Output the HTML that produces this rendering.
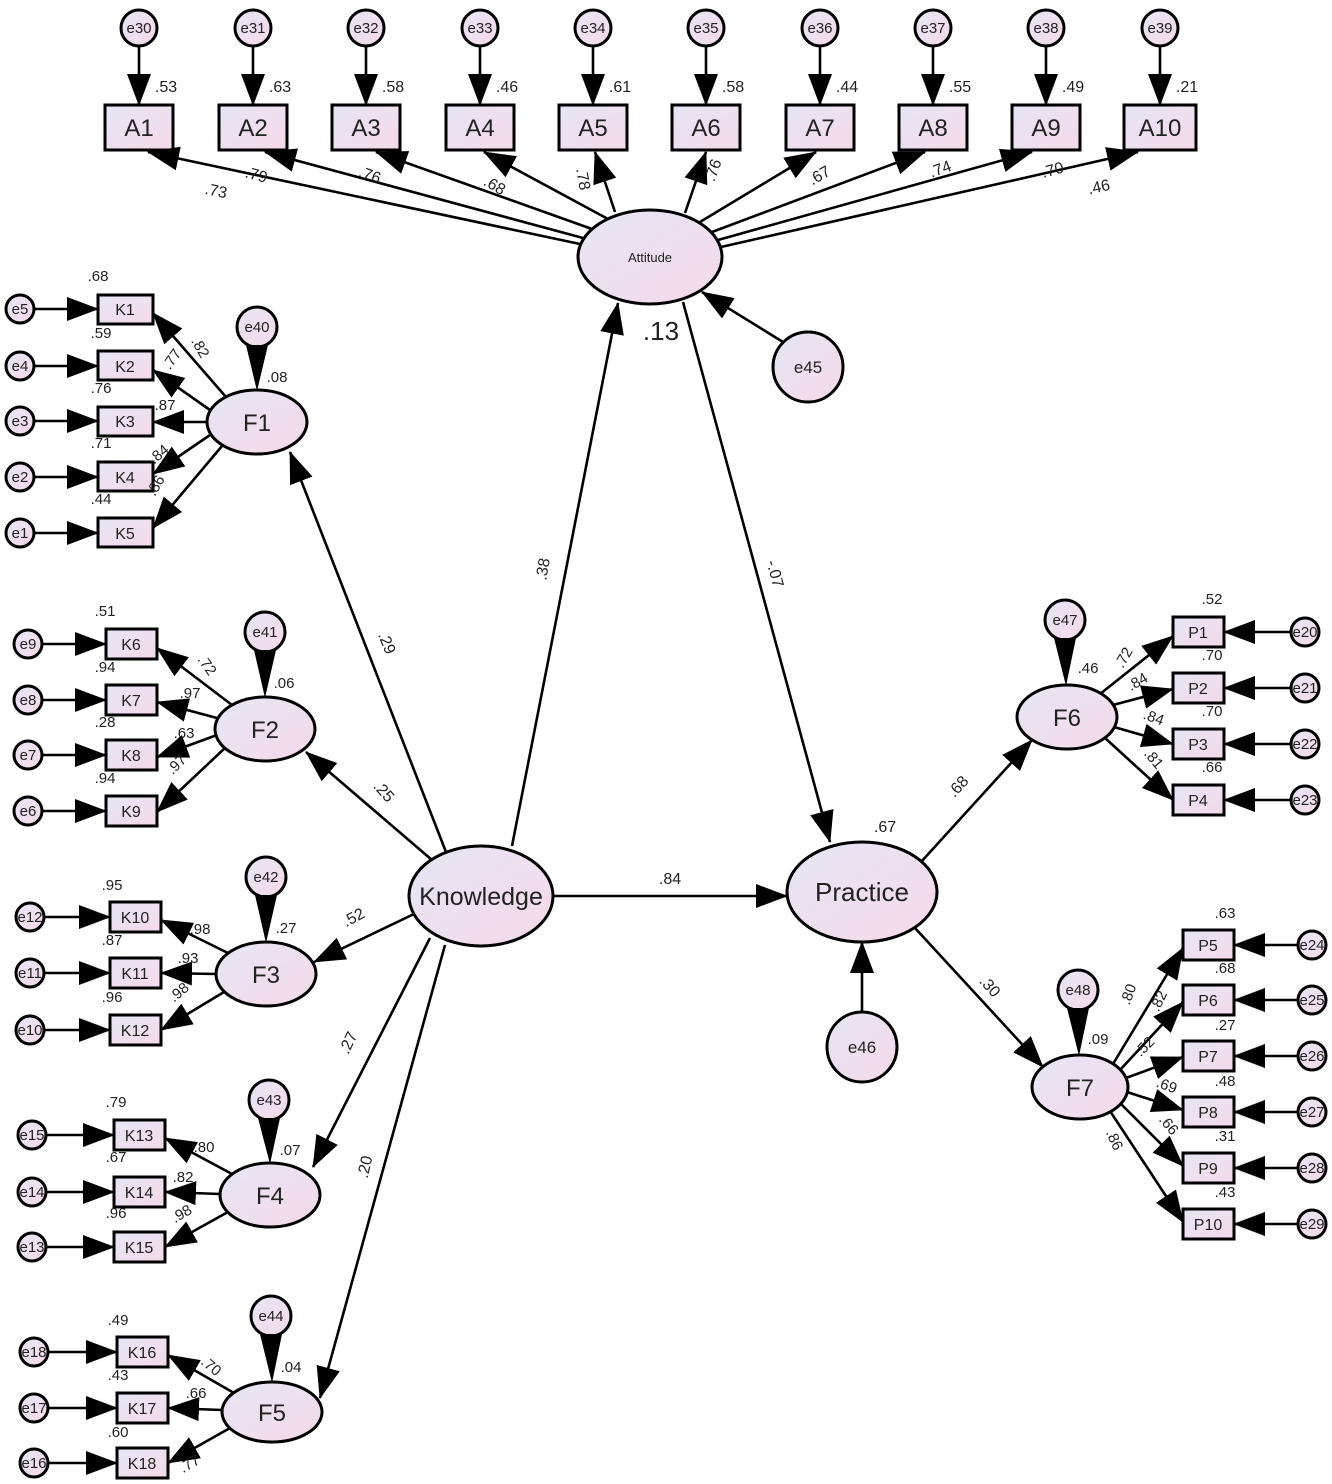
<!DOCTYPE html>
<html><head><meta charset="utf-8"><style>
html,body{margin:0;padding:0;background:#fff;}
svg{display:block;font-family:"Liberation Sans",Arial,sans-serif;}
</style></head><body>
<svg width="1332" height="1484" viewBox="0 0 1332 1484" xmlns="http://www.w3.org/2000/svg">
<defs>
<linearGradient id="g" x1="0" y1="0" x2="1" y2="1"><stop offset="0" stop-color="#e6e6f5"/><stop offset="1" stop-color="#f5d9e9"/></linearGradient>
<marker id="a" markerUnits="userSpaceOnUse" markerWidth="32" markerHeight="26" refX="31" refY="13" orient="auto"><path d="M0,1 L32,13 L0,25 z" fill="#000"/></marker>
</defs>
<g fill="url(#g)" stroke="#000" stroke-width="3">
<circle cx="139" cy="28" r="18"/><circle cx="253" cy="28" r="18"/><circle cx="366" cy="28" r="18"/><circle cx="480" cy="28" r="18"/><circle cx="593" cy="28" r="18"/><circle cx="706" cy="28" r="18"/><circle cx="820" cy="28" r="18"/><circle cx="933" cy="28" r="18"/><circle cx="1046" cy="28" r="18"/><circle cx="1160" cy="28" r="18"/>
<rect x="105" y="105" width="68" height="45"/><rect x="219" y="105" width="68" height="45"/><rect x="332" y="105" width="68" height="45"/><rect x="446" y="105" width="68" height="45"/><rect x="559" y="105" width="68" height="45"/><rect x="672" y="105" width="68" height="45"/><rect x="786" y="105" width="68" height="45"/><rect x="899" y="105" width="68" height="45"/><rect x="1012" y="105" width="68" height="45"/><rect x="1124" y="105" width="72" height="45"/>
<ellipse cx="650" cy="257" rx="72" ry="47"/>
<circle cx="808" cy="367" r="35"/>
<ellipse cx="481" cy="896" rx="72" ry="50"/>
<ellipse cx="862" cy="892" rx="75" ry="50"/>
<circle cx="862" cy="1047" r="35"/>
<ellipse cx="257" cy="422" rx="50" ry="32"/>
<ellipse cx="265" cy="729" rx="50" ry="32"/>
<ellipse cx="266" cy="974" rx="50" ry="32"/>
<ellipse cx="270" cy="1195" rx="50" ry="32"/>
<ellipse cx="272" cy="1412" rx="50" ry="30"/>
<ellipse cx="1067" cy="717" rx="50" ry="32"/>
<ellipse cx="1080" cy="1087" rx="48" ry="32"/>
<circle cx="257" cy="327" r="20"/><circle cx="265" cy="632" r="20"/><circle cx="266" cy="877" r="20"/><circle cx="269" cy="1100" r="20"/><circle cx="271" cy="1316" r="20"/><circle cx="1065" cy="620" r="20"/><circle cx="1078" cy="990" r="20"/>
<rect x="98" y="295" width="55" height="29"/><rect x="98" y="351" width="55" height="29"/><rect x="98" y="407" width="55" height="29"/><rect x="98" y="462" width="55" height="29"/><rect x="98" y="518" width="55" height="29"/>
<rect x="106" y="629" width="51" height="30"/><rect x="106" y="685" width="51" height="30"/><rect x="106" y="740" width="51" height="30"/><rect x="106" y="796" width="51" height="30"/>
<rect x="110" y="902" width="51" height="30"/><rect x="110" y="958" width="51" height="30"/><rect x="110" y="1015" width="51" height="30"/>
<rect x="114" y="1120" width="51" height="30"/><rect x="114" y="1177" width="51" height="30"/><rect x="114" y="1232" width="51" height="30"/>
<rect x="117" y="1337" width="51" height="30"/><rect x="117" y="1393" width="51" height="30"/><rect x="117" y="1448" width="51" height="30"/>
<circle cx="20" cy="309" r="14"/><circle cx="20" cy="366" r="14"/><circle cx="20" cy="421" r="14"/><circle cx="20" cy="477" r="14"/><circle cx="20" cy="533" r="14"/>
<circle cx="28" cy="644" r="14"/><circle cx="28" cy="700" r="14"/><circle cx="28" cy="755" r="14"/><circle cx="28" cy="811" r="14"/>
<circle cx="30" cy="917" r="14"/><circle cx="30" cy="973" r="14"/><circle cx="30" cy="1030" r="14"/>
<circle cx="32" cy="1135" r="14"/><circle cx="32" cy="1192" r="14"/><circle cx="32" cy="1247" r="14"/>
<circle cx="34" cy="1352" r="14"/><circle cx="34" cy="1408" r="14"/><circle cx="34" cy="1463" r="14"/>
<rect x="1173" y="617" width="51" height="30"/><rect x="1173" y="673" width="51" height="30"/><rect x="1173" y="729" width="51" height="30"/><rect x="1173" y="785" width="51" height="30"/>
<rect x="1183" y="930" width="51" height="30"/><rect x="1183" y="985" width="51" height="30"/><rect x="1183" y="1041" width="51" height="30"/><rect x="1183" y="1097" width="51" height="30"/><rect x="1183" y="1153" width="51" height="30"/><rect x="1183" y="1209" width="51" height="30"/>
<circle cx="1305" cy="632" r="14"/><circle cx="1305" cy="688" r="14"/><circle cx="1305" cy="744" r="14"/><circle cx="1305" cy="800" r="14"/>
<circle cx="1312" cy="945" r="14"/><circle cx="1312" cy="1000" r="14"/><circle cx="1312" cy="1056" r="14"/><circle cx="1312" cy="1112" r="14"/><circle cx="1312" cy="1168" r="14"/><circle cx="1312" cy="1224" r="14"/>
</g>
<g stroke="#000" stroke-width="2.6" fill="none" marker-end="url(#a)">
<line x1="139" y1="46" x2="139" y2="105"/><line x1="253" y1="46" x2="253" y2="105"/><line x1="366" y1="46" x2="366" y2="105"/><line x1="480" y1="46" x2="480" y2="105"/><line x1="593" y1="46" x2="593" y2="105"/><line x1="706" y1="46" x2="706" y2="105"/><line x1="820" y1="46" x2="820" y2="105"/><line x1="933" y1="46" x2="933" y2="105"/><line x1="1046" y1="46" x2="1046" y2="105"/><line x1="1160" y1="46" x2="1160" y2="105"/>
<line x1="580" y1="244" x2="148" y2="152"/><line x1="583" y1="238" x2="265" y2="152"/><line x1="592" y1="229" x2="376" y2="152"/><line x1="608" y1="219" x2="484" y2="152"/><line x1="615" y1="212" x2="595" y2="152"/>
<line x1="685" y1="213" x2="706" y2="152"/><line x1="700" y1="222" x2="816" y2="152"/><line x1="712" y1="232" x2="925" y2="152"/><line x1="718" y1="240" x2="1032" y2="152"/><line x1="721" y1="247" x2="1138" y2="152"/>
<line x1="783" y1="342" x2="702" y2="292"/>
<line x1="512" y1="846" x2="618" y2="303"/>
<line x1="683" y1="302" x2="830" y2="842"/>
<line x1="446" y1="852" x2="290" y2="452"/>
<line x1="432" y1="860" x2="306" y2="752"/>
<line x1="414" y1="914" x2="314" y2="962"/>
<line x1="430" y1="938" x2="313" y2="1167"/>
<line x1="445" y1="945" x2="320" y2="1398"/>
<line x1="553" y1="896" x2="787" y2="896"/>
<line x1="862" y1="1012" x2="862" y2="942"/>
<line x1="921" y1="862" x2="1032" y2="740"/>
<line x1="915" y1="928" x2="1043" y2="1067"/>
<line x1="226" y1="397" x2="153" y2="313"/><line x1="210" y1="410" x2="153" y2="370"/><line x1="207" y1="422" x2="153" y2="422"/><line x1="210" y1="435" x2="153" y2="474"/><line x1="222" y1="446" x2="153" y2="528"/>
<line x1="232" y1="705" x2="157" y2="648"/><line x1="217" y1="718" x2="157" y2="702"/><line x1="217" y1="735" x2="157" y2="757"/><line x1="225" y1="748" x2="157" y2="812"/>
<line x1="228" y1="953" x2="161" y2="920"/><line x1="216" y1="974" x2="161" y2="973"/><line x1="224" y1="992" x2="161" y2="1030"/>
<line x1="232" y1="1174" x2="165" y2="1138"/><line x1="220" y1="1194" x2="165" y2="1192"/><line x1="228" y1="1212" x2="165" y2="1247"/>
<line x1="234" y1="1393" x2="168" y2="1355"/><line x1="222" y1="1410" x2="168" y2="1408"/><line x1="230" y1="1428" x2="168" y2="1463"/>
<line x1="1100" y1="694" x2="1173" y2="636"/><line x1="1113" y1="705" x2="1173" y2="689"/><line x1="1114" y1="727" x2="1173" y2="744"/><line x1="1105" y1="738" x2="1173" y2="800"/>
<line x1="1113" y1="1064" x2="1183" y2="948"/><line x1="1120" y1="1070" x2="1183" y2="1002"/><line x1="1126" y1="1078" x2="1183" y2="1057"/><line x1="1127" y1="1092" x2="1183" y2="1110"/><line x1="1120" y1="1103" x2="1183" y2="1166"/><line x1="1110" y1="1111" x2="1183" y2="1222"/>
<line x1="34" y1="309" x2="98" y2="309"/><line x1="34" y1="366" x2="98" y2="366"/><line x1="34" y1="421" x2="98" y2="421"/><line x1="34" y1="477" x2="98" y2="477"/><line x1="34" y1="533" x2="98" y2="533"/>
<line x1="42" y1="644" x2="106" y2="644"/><line x1="42" y1="700" x2="106" y2="700"/><line x1="42" y1="755" x2="106" y2="755"/><line x1="42" y1="811" x2="106" y2="811"/>
<line x1="44" y1="917" x2="110" y2="917"/><line x1="44" y1="973" x2="110" y2="973"/><line x1="44" y1="1030" x2="110" y2="1030"/>
<line x1="46" y1="1135" x2="114" y2="1135"/><line x1="46" y1="1192" x2="114" y2="1192"/><line x1="46" y1="1247" x2="114" y2="1247"/>
<line x1="48" y1="1352" x2="117" y2="1352"/><line x1="48" y1="1408" x2="117" y2="1408"/><line x1="48" y1="1463" x2="117" y2="1463"/>
<line x1="1291" y1="632" x2="1224" y2="632"/><line x1="1291" y1="688" x2="1224" y2="688"/><line x1="1291" y1="744" x2="1224" y2="744"/><line x1="1291" y1="800" x2="1224" y2="800"/>
<line x1="1298" y1="945" x2="1234" y2="945"/><line x1="1298" y1="1000" x2="1234" y2="1000"/><line x1="1298" y1="1056" x2="1234" y2="1056"/><line x1="1298" y1="1112" x2="1234" y2="1112"/><line x1="1298" y1="1168" x2="1234" y2="1168"/><line x1="1298" y1="1224" x2="1234" y2="1224"/>
</g>
<g fill="#000">
<path d="M246,345 L268,345 L257,391 z"/><path d="M254,650 L276,650 L265,698 z"/><path d="M255,895 L277,895 L266,943 z"/><path d="M258,1118 L280,1118 L270,1164 z"/><path d="M260,1334 L282,1334 L272,1383 z"/><path d="M1054,638 L1076,638 L1066,686 z"/><path d="M1067,1008 L1089,1008 L1079,1056 z"/>
</g>
<g fill="#222" text-anchor="middle">
<g font-size="15"><text x="139" y="33">e30</text><text x="253" y="33">e31</text><text x="366" y="33">e32</text><text x="480" y="33">e33</text><text x="593" y="33">e34</text><text x="706" y="33">e35</text><text x="820" y="33">e36</text><text x="933" y="33">e37</text><text x="1046" y="33">e38</text><text x="1160" y="33">e39</text></g>
<g font-size="24"><text x="139" y="136">A1</text><text x="253" y="136">A2</text><text x="366" y="136">A3</text><text x="480" y="136">A4</text><text x="593" y="136">A5</text><text x="706" y="136">A6</text><text x="820" y="136">A7</text><text x="933" y="136">A8</text><text x="1046" y="136">A9</text><text x="1160" y="136">A10</text></g>
<g font-size="16"><text x="166" y="92">.53</text><text x="280" y="92">.63</text><text x="393" y="92">.58</text><text x="507" y="92">.46</text><text x="620" y="92">.61</text><text x="733" y="92">.58</text><text x="847" y="92">.44</text><text x="960" y="92">.55</text><text x="1073" y="92">.49</text><text x="1187" y="92">.21</text></g>
<g font-size="16">
<text transform="translate(215,196) rotate(12)">.73</text>
<text transform="translate(255,180) rotate(15)">.79</text>
<text transform="translate(368,180) rotate(20)">.76</text>
<text transform="translate(492,190) rotate(30)">.68</text>
<text transform="translate(578,180) rotate(80)">.78</text>
<text transform="translate(718,172) rotate(-70)">.76</text>
<text transform="translate(822,180) rotate(-30)">.67</text>
<text transform="translate(942,174) rotate(-20)">.74</text>
<text transform="translate(1054,175) rotate(-15)">.70</text>
<text transform="translate(1100,192) rotate(-12)">.46</text>
</g>
<text x="650" y="262" font-size="13">Attitude</text>
<text x="808" y="373" font-size="17">e45</text>
<text x="661" y="340" font-size="26">.13</text>
<text x="481" y="905" font-size="25">Knowledge</text>
<text x="862" y="901" font-size="26">Practice</text>
<text x="862" y="1053" font-size="17">e46</text>
<g font-size="16">
<text transform="translate(548,570) rotate(-80)">.38</text>
<text transform="translate(770,575) rotate(75)">-.07</text>
<text transform="translate(382,645) rotate(68)">.29</text>
<text transform="translate(380,795) rotate(48)">.25</text>
<text transform="translate(356,922) rotate(-28)">.52</text>
<text transform="translate(353,1045) rotate(-65)">.27</text>
<text transform="translate(370,1168) rotate(-77)">.20</text>
<text x="670" y="884">.84</text>
<text x="885" y="832">.67</text>
<text transform="translate(962,790) rotate(-48)">.68</text>
<text transform="translate(986,990) rotate(48)">.30</text>
</g>
<g font-size="24"><text x="257" y="431">F1</text><text x="265" y="738">F2</text><text x="266" y="983">F3</text><text x="270" y="1204">F4</text><text x="272" y="1421">F5</text><text x="1067" y="726">F6</text><text x="1080" y="1096">F7</text></g>
<g font-size="15"><text x="257" y="332">e40</text><text x="265" y="637">e41</text><text x="266" y="882">e42</text><text x="269" y="1105">e43</text><text x="271" y="1321">e44</text><text x="1065" y="625">e47</text><text x="1078" y="995">e48</text></g>
<g font-size="15"><text x="277" y="382">.08</text><text x="284" y="688">.06</text><text x="286" y="933">.27</text><text x="290" y="1155">.07</text><text x="291" y="1372">.04</text><text x="1088" y="673">.46</text><text x="1098" y="1044">.09</text></g>
<g font-size="16">
<text x="125" y="315">K1</text><text x="125" y="372">K2</text><text x="125" y="427">K3</text><text x="125" y="483">K4</text><text x="125" y="539">K5</text>
<text x="131" y="650">K6</text><text x="131" y="706">K7</text><text x="131" y="761">K8</text><text x="131" y="817">K9</text>
<text x="135" y="923">K10</text><text x="135" y="979">K11</text><text x="135" y="1036">K12</text>
<text x="139" y="1141">K13</text><text x="139" y="1198">K14</text><text x="139" y="1253">K15</text>
<text x="142" y="1358">K16</text><text x="142" y="1414">K17</text><text x="142" y="1469">K18</text>
<text x="1198" y="638">P1</text><text x="1198" y="694">P2</text><text x="1198" y="750">P3</text><text x="1198" y="806">P4</text>
<text x="1208" y="951">P5</text><text x="1208" y="1006">P6</text><text x="1208" y="1062">P7</text><text x="1208" y="1118">P8</text><text x="1208" y="1174">P9</text><text x="1208" y="1230">P10</text>
</g>
<g font-size="15">
<text x="20" y="314">e5</text><text x="20" y="371">e4</text><text x="20" y="426">e3</text><text x="20" y="482">e2</text><text x="20" y="538">e1</text>
<text x="28" y="649">e9</text><text x="28" y="705">e8</text><text x="28" y="760">e7</text><text x="28" y="816">e6</text>
<text x="30" y="922">e12</text><text x="30" y="978">e11</text><text x="30" y="1035">e10</text>
<text x="32" y="1140">e15</text><text x="32" y="1197">e14</text><text x="32" y="1252">e13</text>
<text x="34" y="1357">e18</text><text x="34" y="1413">e17</text><text x="34" y="1468">e16</text>
<text x="1305" y="637">e20</text><text x="1305" y="693">e21</text><text x="1305" y="749">e22</text><text x="1305" y="805">e23</text>
<text x="1312" y="950">e24</text><text x="1312" y="1005">e25</text><text x="1312" y="1061">e26</text><text x="1312" y="1117">e27</text><text x="1312" y="1173">e28</text><text x="1312" y="1229">e29</text>
</g>
<g font-size="15">
<text x="98" y="281">.68</text><text x="101" y="338">.59</text><text x="101" y="393">.76</text><text x="101" y="448">.71</text><text x="101" y="504">.44</text>
<text x="105" y="616">.51</text><text x="105" y="672">.94</text><text x="105" y="727">.28</text><text x="105" y="783">.94</text>
<text x="112" y="890">.95</text><text x="112" y="945">.87</text><text x="112" y="1002">.96</text>
<text x="116" y="1107">.79</text><text x="116" y="1162">.67</text><text x="116" y="1218">.96</text>
<text x="118" y="1325">.49</text><text x="118" y="1380">.43</text><text x="118" y="1437">.60</text>
<text x="1212" y="604">.52</text><text x="1212" y="660">.70</text><text x="1212" y="716">.70</text><text x="1212" y="772">.66</text>
<text x="1225" y="918">.63</text><text x="1225" y="973">.68</text><text x="1225" y="1030">.27</text><text x="1225" y="1086">.48</text><text x="1225" y="1141">.31</text><text x="1225" y="1197">.43</text>
</g>
<g font-size="15">
<text transform="translate(196,350) rotate(60)">.82</text>
<text transform="translate(176,362) rotate(-55)">.77</text>
<text x="165" y="410">.87</text>
<text transform="translate(162,458) rotate(-40)">.84</text>
<text transform="translate(160,488) rotate(-60)">.86</text>
<text transform="translate(203,668) rotate(55)">.72</text>
<text x="190" y="698">.97</text>
<text x="184" y="738">.63</text>
<text transform="translate(180,768) rotate(-45)">.97</text>
<text x="200" y="934">.98</text>
<text x="188" y="963">.93</text>
<text transform="translate(182,996) rotate(-40)">.98</text>
<text x="204" y="1152">.80</text>
<text x="183" y="1182">.82</text>
<text transform="translate(184,1218) rotate(-30)">.98</text>
<text transform="translate(208,1370) rotate(40)">.70</text>
<text x="196" y="1398">.66</text>
<text transform="translate(192,1468) rotate(-30)">.77</text>
<text transform="translate(1128,660) rotate(-60)">.72</text>
<text transform="translate(1140,686) rotate(-30)">.84</text>
<text transform="translate(1152,722) rotate(20)">.84</text>
<text transform="translate(1150,762) rotate(50)">.81</text>
<text transform="translate(1133,996) rotate(-70)">.80</text>
<text transform="translate(1163,1003) rotate(-65)">.82</text>
<text transform="translate(1148,1050) rotate(-45)">.52</text>
<text transform="translate(1165,1090) rotate(20)">.69</text>
<text transform="translate(1165,1128) rotate(50)">.66</text>
<text transform="translate(1110,1142) rotate(65)">.86</text>
</g>
</g>
</svg>
</body></html>
